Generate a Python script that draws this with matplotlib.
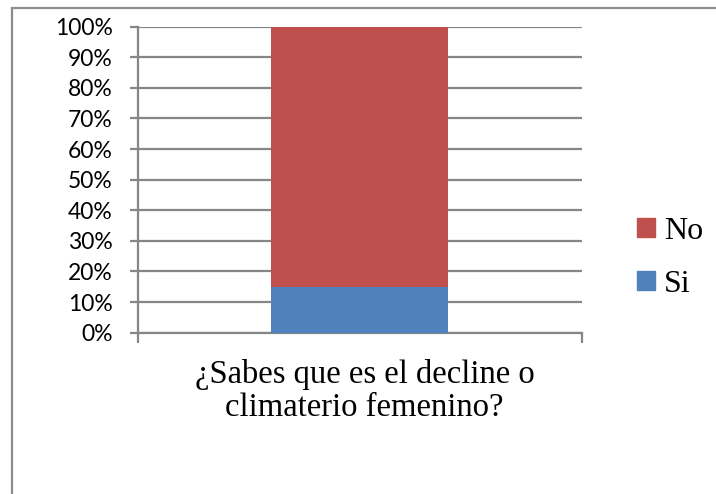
import matplotlib
matplotlib.use("Agg")
import matplotlib.pyplot as plt
from matplotlib.patches import Rectangle, Patch
from matplotlib.ticker import FuncFormatter, FixedLocator
from matplotlib.transforms import ScaledTranslation

# Data
categories = ["¿Sabes que es el decline o\nclimaterio femenino?"]
series_names = ["Si", "No"]
si_values = [15]
no_values = [85]
y_ticks = [0, 10, 20, 30, 40, 50, 60, 70, 80, 90, 100]

colors = {"Si": "#4F81BD", "No": "#C0504D"}
grid_gray = "#868686"

W, H = 716, 494
fig = plt.figure(figsize=(W / 100, H / 100), dpi=100)
fig.patch.set_facecolor("white")

# Outer chart-area border
fig.add_artist(Rectangle((12 / W, -0.1), 1.2, 1 - 8 / H + 0.1,
                         transform=fig.transFigure, fill=False,
                         edgecolor="#8c8c8c", linewidth=1.6))

left, right, top, bottom = 137.5, 581.5, 26.7, 332.7
ax = fig.add_axes([left / W, 1 - bottom / H, (right - left) / W, (bottom - top) / H])

x = list(range(len(categories)))
ax.bar(x, si_values, width=0.4, color=colors["Si"], label="Si", zorder=3)
ax.bar(x, no_values, width=0.4, bottom=si_values, color=colors["No"], label="No", zorder=3)

ax.set_xlim(-0.5, 0.5)
ax.set_ylim(0, 100)
ax.set_yticks(y_ticks)
ax.yaxis.set_major_formatter(FuncFormatter(lambda v, _: f"{int(v)}%"))
ax.yaxis.grid(True, color=grid_gray, linewidth=1.6, zorder=0)
ax.set_axisbelow(True)

for s in ("top", "right"):
    ax.spines[s].set_visible(False)
for s in ("left", "bottom"):
    ax.spines[s].set_color(grid_gray)
    ax.spines[s].set_linewidth(1.6)

ax.tick_params(axis="y", length=6, width=1.6, color=grid_gray, pad=12,
               labelsize=16.5, labelcolor="black")
for lbl in ax.get_yticklabels():
    lbl.set_family(["Lato", "DejaVu Sans"])

ax.set_xticks(x)
ax.set_xticklabels(categories, fontsize=23.5, family="Liberation Serif", linespacing=1.1)
ax.xaxis.set_minor_locator(FixedLocator([-0.5, 0.5]))
ax.tick_params(axis="x", which="major", length=0, pad=19)
ax.tick_params(axis="x", which="minor", length=7, width=1.6, color=grid_gray)
shift = ScaledTranslation(5 / 100, 0, fig.dpi_scale_trans)
for lbl in ax.get_xticklabels():
    lbl.set_transform(lbl.get_transform() + shift)

handles = [Patch(color=colors["No"]), Patch(color=colors["Si"])]
fig.legend(handles, ["No", "Si"], loc="center left",
           bbox_to_anchor=(637 / W, 1 - 258 / H), frameon=False,
           borderpad=0, borderaxespad=0,
           prop={"family": "Liberation Serif", "size": 23},
           handlelength=0.55, handleheight=0.55, handletextpad=0.3,
           labelspacing=0.75)

fig.savefig("out.png", dpi=100)
